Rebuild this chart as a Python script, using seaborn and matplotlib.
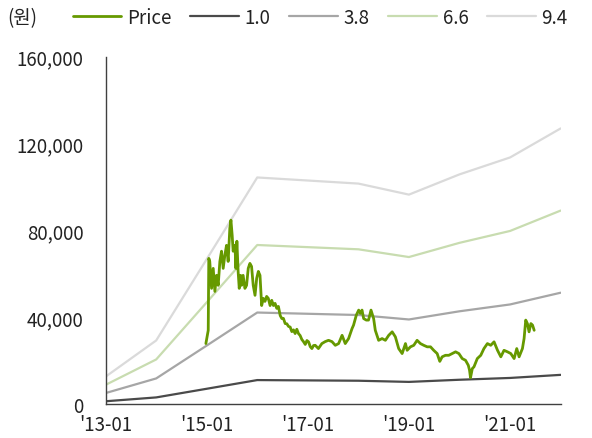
import matplotlib
matplotlib.use("Agg")
import matplotlib.pyplot as plt
import matplotlib.dates as mdates
import seaborn as sns
import pandas as pd

# ---- data ----
band_dates = ["2013-01-01", "2014-01-01", "2015-01-01", "2016-01-01", "2017-01-01",
              "2018-01-01", "2019-01-01", "2020-01-01", "2021-01-01", "2022-01-01"]
eps = [1350, 3120, 7100, 11100, 10950, 10800, 10260, 11250, 12080, 13500]
multiples = [1.0, 3.8, 6.6, 9.4]
band_labels = ["1.0", "3.8", "6.6", "9.4"]

price_dates = [
    "2014-12-26", "2015-01-12", "2015-01-16", "2015-01-23", "2015-02-05", "2015-02-17",
    "2015-03-01", "2015-03-13", "2015-03-25", "2015-04-06", "2015-04-18", "2015-04-30",
    "2015-05-12", "2015-05-24", "2015-06-05", "2015-06-17", "2015-06-25", "2015-07-04",
    "2015-07-11", "2015-07-24", "2015-07-31", "2015-08-07", "2015-08-16", "2015-08-24",
    "2015-09-03", "2015-09-10", "2015-09-21", "2015-10-04", "2015-10-16", "2015-10-28",
    "2015-11-09", "2015-11-21", "2015-12-03", "2015-12-16", "2015-12-28", "2016-01-09",
    "2016-01-21", "2016-02-02", "2016-02-14", "2016-02-26", "2016-03-09", "2016-03-21",
    "2016-04-03", "2016-04-15", "2016-04-27", "2016-05-09", "2016-05-21", "2016-06-02",
    "2016-06-15", "2016-06-27", "2016-07-08", "2016-07-21", "2016-08-02", "2016-08-14",
    "2016-08-26", "2016-09-07", "2016-09-19", "2016-10-01", "2016-10-13", "2016-10-25",
    "2016-11-06", "2016-11-18", "2016-11-30", "2016-12-13", "2016-12-25", "2017-01-06",
    "2017-01-18", "2017-01-30", "2017-02-11", "2017-02-23", "2017-03-18", "2017-04-12",
    "2017-05-06", "2017-05-30", "2017-06-24", "2017-07-18", "2017-08-11", "2017-09-05",
    "2017-09-28", "2017-10-22", "2017-11-16", "2017-11-27", "2017-12-17", "2018-01-03",
    "2018-01-15", "2018-01-27", "2018-02-08", "2018-02-27", "2018-03-15", "2018-04-02",
    "2018-04-21", "2018-05-03", "2018-05-27", "2018-06-21", "2018-07-15", "2018-08-08",
    "2018-09-02", "2018-09-25", "2018-10-19", "2018-11-13", "2018-12-07", "2018-12-19",
    "2019-01-12", "2019-02-05", "2019-03-01", "2019-03-25", "2019-04-18", "2019-05-13",
    "2019-06-06", "2019-06-29", "2019-07-24", "2019-08-12", "2019-08-29", "2019-09-22",
    "2019-10-16", "2019-11-10", "2019-12-04", "2019-12-28", "2020-01-21", "2020-02-14",
    "2020-03-05", "2020-03-14", "2020-03-21", "2020-04-03", "2020-04-15", "2020-05-09",
    "2020-06-03", "2020-06-26", "2020-07-21", "2020-08-14", "2020-09-07", "2020-10-02",
    "2020-10-26", "2020-11-18", "2020-12-13", "2021-01-06", "2021-01-30", "2021-02-18",
    "2021-03-07", "2021-03-31", "2021-04-12", "2021-04-24", "2021-05-06", "2021-05-18",
    "2021-05-31", "2021-06-12", "2021-06-24",
]
price_values = [
    27900, 34000, 67100, 65700, 53300, 62500,
    51900, 59300, 54700, 65700, 70400, 62500,
    68500, 73100, 65700, 81000, 84700, 77700,
    70400, 73100, 62500, 75000, 61100, 53300,
    59300, 54700, 59300, 53300, 54700, 62500,
    64800, 63400, 54700, 50100, 57900, 61100,
    59300, 45400, 48700, 47300, 49600, 48700,
    45400, 47800, 45400, 46400, 44100, 45000,
    40800, 39400, 39500, 37100, 37000, 35800,
    35500, 33400, 34200, 32500, 34500, 32500,
    31600, 29800, 28800, 27500, 29300, 28700,
    26500, 25600, 27000, 27100, 25600, 27900,
    28800, 29400, 28800, 27100, 27900, 31700,
    27900, 30200, 34800, 36400, 41000, 43300,
    41800, 43300, 39400, 38700, 38700, 43300,
    39400, 34000, 29400, 30200, 29400, 31700,
    33300, 31000, 25600, 23300, 27900, 24800,
    26400, 27100, 29400, 27900, 27100, 26400,
    26400, 24800, 23300, 19700, 21800, 22500,
    22500, 23300, 24100, 23300, 21000, 20200,
    17900, 15600, 12200, 16400, 17200, 21000,
    22500, 25600, 27900, 27100, 28700, 24800,
    21800, 24800, 24100, 23300, 21000, 25600,
    21800, 25600, 30200, 38700, 37100, 33300,
    37100, 36400, 34000,
]

price_color = "#669900"
band_colors = ["#4a4a4a", "#a6a6a6", "#c8dcb0", "#dadada"]
font_list = ["Noto Sans CJK KR", "DejaVu Sans"]

# ---- plot ----
sns.set_theme(style="white")
plt.rcParams["font.family"] = font_list

fig = plt.figure(figsize=(5.92, 4.39), dpi=100)
ax = fig.add_axes([0.1785, 0.077, 0.7685, 0.792])

bd = pd.to_datetime(band_dates)
for m, lab, col in zip(multiples, band_labels, band_colors):
    vals = [e * m for e in eps]
    sns.lineplot(x=bd, y=vals, ax=ax, color=col, linewidth=1.6, label=lab,
                 estimator=None, zorder=2)

sns.lineplot(x=pd.to_datetime(price_dates), y=price_values, ax=ax, color=price_color,
             linewidth=2.0, label="Price", estimator=None, zorder=3)

ax.set_xlim(pd.Timestamp("2013-01-01"), pd.Timestamp("2022-01-01"))
ax.set_ylim(0, 160000)
ax.set_yticks([0, 40000, 80000, 120000, 160000])
ax.yaxis.set_major_formatter(matplotlib.ticker.FuncFormatter(lambda v, p: f"{int(v):,}"))
ax.set_xticks(pd.to_datetime(["2013-01-01", "2015-01-01", "2017-01-01",
                              "2019-01-01", "2021-01-01"]))
ax.xaxis.set_major_formatter(mdates.DateFormatter("'%y-%m"))
ax.set_xlabel("")
ax.set_ylabel("")

for s in ["top", "right"]:
    ax.spines[s].set_visible(False)
for s in ["left", "bottom"]:
    ax.spines[s].set_color("#404040")
    ax.spines[s].set_linewidth(1.0)
ax.tick_params(axis="both", direction="in", length=5, width=1, color="#404040",
               labelsize=13.5, labelcolor="#222222")
ax.tick_params(axis="x", pad=7)
ax.tick_params(axis="y", pad=16)

ax.get_legend().remove()
h, l = ax.get_legend_handles_labels()
order = [l.index("Price")] + [l.index(b) for b in band_labels]
leg = fig.legend([h[i] for i in order], [l[i] for i in order], loc="center left",
                 bbox_to_anchor=(0.11, 0.958), ncol=5, frameon=False,
                 fontsize=13.5, handlelength=2.6, handletextpad=0.3,
                 columnspacing=1.0, borderaxespad=0)
for t in leg.get_texts():
    t.set_color("#222222")
fig.text(0.013, 0.958, "(원)", fontsize=13.5, color="#222222", va="center", ha="left")

fig.savefig("out.png", dpi=100)
